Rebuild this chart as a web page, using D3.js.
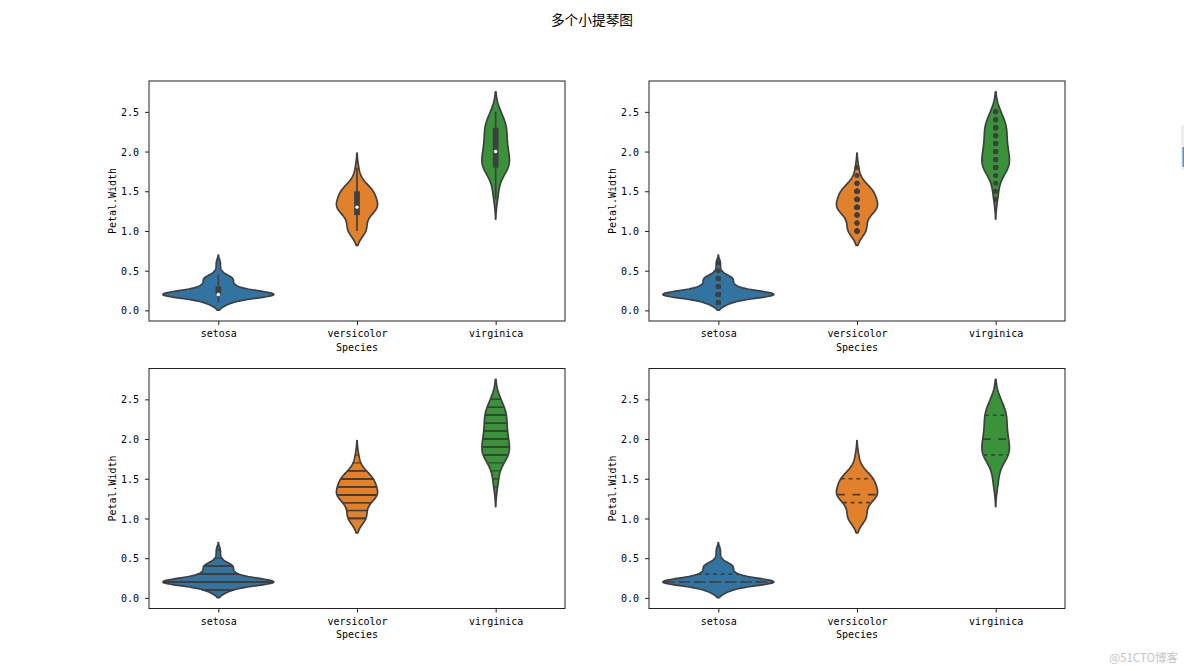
<!DOCTYPE html>
<html>
<head>
<meta charset="utf-8">
<script src="https://cdn.jsdelivr.net/npm/d3@7"></script>
<style>
    body { margin: 0; background: #fff; }
    .tick text, .lab { font-family: "DejaVu Sans Mono", monospace; font-size: 10px; fill: #000; }
</style>
</head>
<body>
<svg id="chart" width="1184" height="671"></svg>
<script>
// iris Petal.Width: distinct values per species and how many flowers have each
const species = ["setosa", "versicolor", "virginica"];
const colors = ["#3274a1", "#e1812c", "#3a923a"];

const setosaValues = [0.1, 0.2, 0.3, 0.4, 0.5, 0.6];
const setosaCounts = [5, 29, 7, 7, 1, 1];
const versicolorValues = [1.0, 1.1, 1.2, 1.3, 1.4, 1.5, 1.6, 1.7, 1.8];
const versicolorCounts = [7, 3, 5, 13, 7, 10, 3, 1, 1];
const virginicaValues = [1.4, 1.5, 1.6, 1.7, 1.8, 1.9, 2.0, 2.1, 2.2, 2.3, 2.4, 2.5];
const virginicaCounts = [1, 2, 1, 1, 11, 5, 6, 6, 3, 8, 3, 3];

const inners = ["box", "point", "stick", "quartile"];
const yTicks = [0, 0.5, 1.0, 1.5, 2.0, 2.5];

const GRAY = "#3f3f3f";
const LW = 1.7;

let svg = d3.select("#chart");
let panelW = 416, panelH = 240;
let panelLeft = [149, 649];
let panelTop = [81, 368.5];

function expand(values, counts) {
    return values.flatMap((v, i) => Array(counts[i]).fill(v));
}

// gaussian kde, scott bandwidth, cut = 2, gridsize = 100 (as seaborn does)
function kde(obs) {
    let n = obs.length;
    let bw = d3.deviation(obs) * Math.pow(n, -0.2);
    let lo = d3.min(obs) - 2 * bw, hi = d3.max(obs) + 2 * bw;
    let support = d3.range(100).map(i => lo + (hi - lo) * i / 99);
    let dens = support.map(s => d3.mean(obs, o => Math.exp(-0.5 * ((s - o) / bw) ** 2)) / (bw * Math.sqrt(2 * Math.PI)));
    return {support, dens};
}

let groups = [
    expand(setosaValues, setosaCounts),
    expand(versicolorValues, versicolorCounts),
    expand(virginicaValues, virginicaCounts),
].map((obs, i) => {
    let sorted = obs.slice().sort(d3.ascending);
    let k = kde(sorted);
    return {name: species[i], color: colors[i], obs: sorted, support: k.support, dens: k.dens};
});

let maxDens = d3.max(groups, g => d3.max(g.dens));
let yMin = d3.min(groups, g => g.support[0]);
let yMax = d3.max(groups, g => g.support[g.support.length - 1]);
let pad = (yMax - yMin) * 0.05;

// title
svg.append("text")
    .attr("x", 592)
    .attr("y", 25)
    .attr("text-anchor", "middle")
    .attr("font-family", "Noto Sans CJK SC, sans-serif")
    .attr("font-size", "13.7px")
    .attr("fill", "#000")
    .text("多个小提琴图");

inners.forEach((inner, pi) => {
    let g = svg.append("g")
        .attr("transform", `translate(${panelLeft[pi % 2]},${panelTop[Math.floor(pi / 2)]})`);

    let x = d3.scalePoint()
        .domain(species)
        .range([0, panelW])
        .padding(0.5);
    let y = d3.scaleLinear()
        .domain([yMin - pad, yMax + pad])
        .range([panelH, 0]);
    let half = d => 0.4 * x.step() * d / maxDens;

    // violins
    groups.forEach(grp => {
        let cx = x(grp.name);
        let pts = grp.support.map((s, i) => [s, grp.dens[i]]);
        g.append("path")
            .datum(pts)
            .attr("d", d3.area()
                .y(d => y(d[0]))
                .x0(d => cx - half(d[1]))
                .x1(d => cx + half(d[1])))
            .attr("fill", grp.color)
            .attr("stroke", GRAY)
            .attr("stroke-width", LW)
            .attr("stroke-linejoin", "round");

        let q1 = d3.quantile(grp.obs, 0.25);
        let q2 = d3.quantile(grp.obs, 0.5);
        let q3 = d3.quantile(grp.obs, 0.75);
        let iqr = q3 - q1;

        let toDensity = (val, dash, sw) => {
            let idx = d3.minIndex(grp.support, s => Math.abs(s - val));
            let w = half(grp.dens[idx]) * 0.99;
            g.append("line")
                .attr("x1", cx - w).attr("x2", cx + w)
                .attr("y1", y(val)).attr("y2", y(val))
                .attr("stroke", GRAY)
                .attr("stroke-width", sw)
                .attr("stroke-dasharray", dash);
        };

        if (inner === "box") {
            let h1 = Math.max(q1 - 1.5 * iqr, d3.min(grp.obs));
            let h2 = Math.min(q3 + 1.5 * iqr, d3.max(grp.obs));
            g.append("line")
                .attr("x1", cx).attr("x2", cx)
                .attr("y1", y(h1)).attr("y2", y(h2))
                .attr("stroke", GRAY).attr("stroke-width", LW);
            g.append("line")
                .attr("x1", cx).attr("x2", cx)
                .attr("y1", y(q1)).attr("y2", y(q3))
                .attr("stroke", GRAY).attr("stroke-width", LW * 3.4);
            g.append("circle")
                .attr("cx", cx).attr("cy", y(q2))
                .attr("r", 1.7)
                .attr("fill", "white");
        } else if (inner === "point") {
            grp.obs.forEach(v => {
                g.append("circle")
                    .attr("cx", cx).attr("cy", y(v))
                    .attr("r", 2.5)
                    .attr("fill", GRAY);
            });
        } else if (inner === "stick") {
            grp.obs.forEach(v => toDensity(v, null, 1.2));
        } else {
            toDensity(q1, "3.85,3.85", LW);
            toDensity(q2, "7.7,7.7", LW);
            toDensity(q3, "3.85,3.85", LW);
        }
    });

    // x axis
    let xa = g.append("g")
        .attr("transform", `translate(0,${panelH})`)
        .call(d3.axisBottom(x).tickSize(4).tickPadding(5));
    xa.select(".domain").remove();
    xa.selectAll(".tick line").attr("stroke", "#222");

    // y axis
    let ya = g.append("g")
        .call(d3.axisLeft(y).tickValues(yTicks).tickFormat(d3.format(".1f")).tickSize(4).tickPadding(6));
    ya.select(".domain").remove();
    ya.selectAll(".tick line").attr("stroke", "#222");
    ya.selectAll(".tick text").attr("dy", "0.36em");

    // frame
    g.append("rect")
        .attr("width", panelW)
        .attr("height", panelH)
        .attr("fill", "none")
        .attr("stroke", "#222")
        .attr("stroke-width", 1);

    // x label
    g.append("text")
        .attr("class", "lab")
        .attr("x", panelW / 2)
        .attr("y", panelH + 29.5)
        .attr("text-anchor", "middle")
        .text("Species");

    // y label
    g.append("text")
        .attr("class", "lab")
        .attr("transform", `translate(-33,${panelH / 2}) rotate(-90)`)
        .attr("text-anchor", "middle")
        .text("Petal.Width");
});

// watermark
svg.append("text")
    .attr("x", 1178)
    .attr("y", 662)
    .attr("text-anchor", "end")
    .attr("font-family", "Noto Sans CJK SC, sans-serif")
    .attr("font-size", "11.5px")
    .attr("fill", "#c4c4c4")
    .text("@51CTO博客");

// page side tab at the right edge
svg.append("rect")
    .attr("x", 1181).attr("y", 125)
    .attr("width", 3).attr("height", 45)
    .attr("fill", "#eeeeee");
svg.append("rect")
    .attr("x", 1182.5).attr("y", 147)
    .attr("width", 1.5).attr("height", 20)
    .attr("fill", "#4a90d9");
</script>
</body>
</html>
